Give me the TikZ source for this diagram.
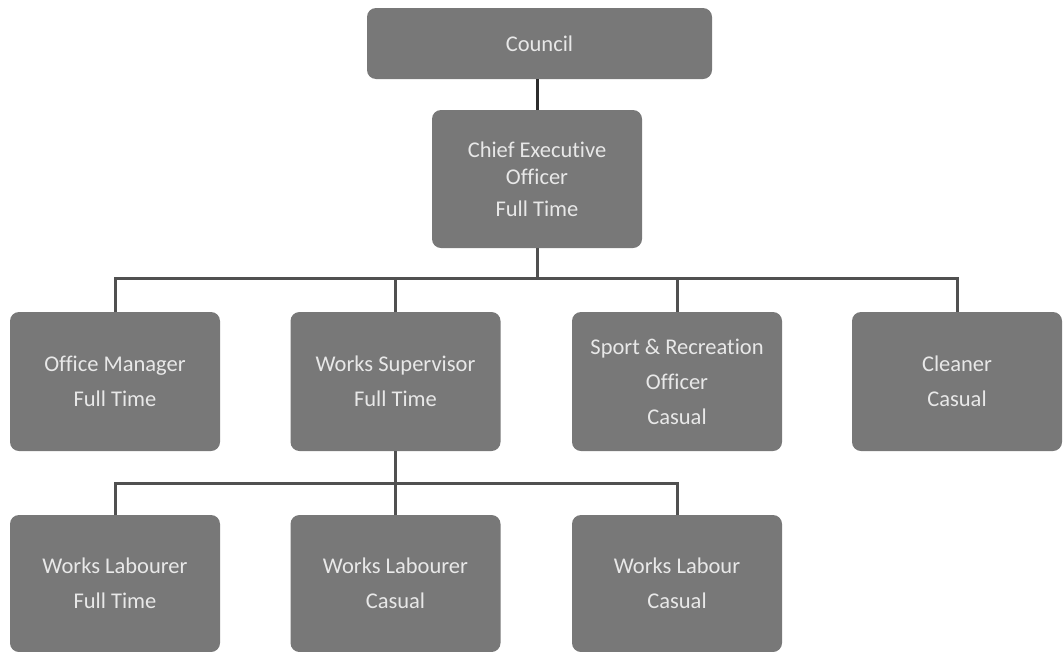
\documentclass[tikz,border=0pt]{standalone}
\usepackage{fontspec}
\setmainfont[Ligatures=NoCommon]{Carlito}
\definecolor{boxgray}{RGB}{120,120,120}
\definecolor{txtgray}{RGB}{232,232,232}
\definecolor{linegray}{RGB}{80,80,80}
\definecolor{darkline}{RGB}{45,45,45}
\begin{document}
\begin{tikzpicture}[x=1pt,y=-1pt,
  box/.style={fill=boxgray, rounded corners=9pt, text=txtgray, align=center,
    font=\fontsize{22.5}{27}\selectfont, inner sep=0pt,
    minimum width=210pt, minimum height=139pt},
  conn/.style={draw=linegray, line width=3pt}]
\useasboundingbox (0,0) rectangle (1064,651);
\node[box, minimum width=345pt, minimum height=71pt] (council) at (539.5,43.5) {Council};
\node[box, minimum height=138pt] (ceo) at (537,179) {Chief Executive\\Officer\\[5pt]Full Time};
\node[box] (om) at (115,381.5) {Office Manager\\[8pt]Full Time};
\node[box] (ws) at (395.5,381.5) {Works Supervisor\\[8pt]Full Time};
\node[box] (sr) at (677,381.5) {Sport \& Recreation\\[8pt]Officer\\[8pt]Casual};
\node[box] (cl) at (957,381.5) {Cleaner\\[8pt]Casual};
\node[box, minimum height=137pt] (wl1) at (115,583.5) {Works Labourer\\[8pt]Full Time};
\node[box, minimum height=137pt] (wl2) at (395.5,583.5) {Works Labourer\\[8pt]Casual};
\node[box, minimum height=137pt] (wl3) at (677,583.5) {Works Labour\\[8pt]Casual};
\coordinate (b1) at (537,278);
\coordinate (b2) at (396,483);
\draw[conn, draw=darkline] (council.south -| ceo.north) -- (ceo.north);
\draw[conn] (ceo.south) -- (ceo.south |- b1);
\draw[conn] (om.north) |- (cl.north |- b1) -- (cl.north);
\draw[conn] (ws.north |- b1) -- (ws.north);
\draw[conn] (sr.north |- b1) -- (sr.north);
\draw[conn] (ws.south) -- (wl2.north);
\draw[conn] (wl1.north) |- (wl3.north |- b2) -- (wl3.north);
\end{tikzpicture}
\end{document}
